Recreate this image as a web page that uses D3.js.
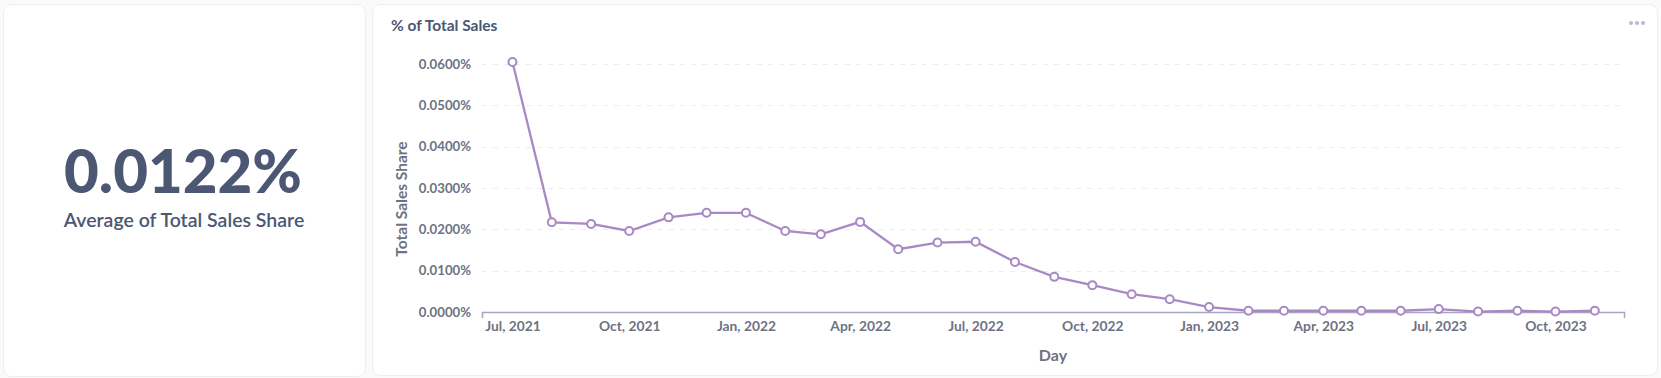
<!DOCTYPE html>
<html>
<head>
<meta charset="utf-8">
<script src="https://cdn.jsdelivr.net/npm/d3@7"></script>
<style>
  html, body { margin: 0; padding: 0; background: #f9fafb; }
  svg { display: block; font-family: Lato, "Open Sans", sans-serif; }
</style>
</head>
<body>
<svg id="canvas"></svg>
<script>
// % of total sales, monthly
let months = ['2021-07', '2021-08', '2021-09', '2021-10', '2021-11', '2021-12',
              '2022-01', '2022-02', '2022-03', '2022-04', '2022-05', '2022-06',
              '2022-07', '2022-08', '2022-09', '2022-10', '2022-11', '2022-12',
              '2023-01', '2023-02', '2023-03', '2023-04', '2023-05', '2023-06',
              '2023-07', '2023-08', '2023-09', '2023-10', '2023-11']

// values in percent
let shareValues = [0.0605, 0.0217, 0.0213, 0.0196, 0.0229, 0.0240,
                   0.0240, 0.0196, 0.0188, 0.0218, 0.0152, 0.0168,
                   0.0170, 0.0121, 0.0085, 0.0065, 0.0043, 0.0031,
                   0.0012, 0.0003, 0.0003, 0.0003, 0.0003, 0.0003,
                   0.0007, 0.0001, 0.0003, 0.0001, 0.0003]

let yTicks = [0, 0.01, 0.02, 0.03, 0.04, 0.05, 0.06]
let xTicks = ['2021-07', '2021-10', '2022-01', '2022-04', '2022-07', '2022-10',
              '2023-01', '2023-04', '2023-07', '2023-10']

let scalarValue = '0.0122%'
let scalarLabel = 'Average of Total Sales Share'
let chartTitle = '% of Total Sales'

//dimensions
let width = 1661
let height = 378
let plot = {left: 482, right: 1624, top: 64, bottom: 312}

let textColor = '#4c5773'
let axisText = '#6e7282'
let lineColor = '#a989c5'

let parseMonth = d3.timeParse('%Y-%m')
let dates = months.map(parseMonth)

let canvas = d3.select('#canvas')
                .attr('width', width)
                .attr('height', height)

// cards
let drawCards = () => {
    let cards = [[3, 4, 362, 372], [372, 4, 1285, 371]]
    canvas.selectAll('rect.card')
        .data(cards)
        .enter()
        .append('rect')
        .attr('class', 'card')
        .attr('x', (c) => c[0] + 0.5)
        .attr('y', (c) => c[1] + 0.5)
        .attr('width', (c) => c[2])
        .attr('height', (c) => c[3])
        .attr('rx', 8)
        .attr('fill', '#ffffff')
        .attr('stroke', '#eceef1')
}

let drawScalar = () => {
    canvas.append('text')
        .attr('x', 183)
        .attr('y', 193)
        .attr('text-anchor', 'middle')
        .attr('font-size', 60)
        .attr('font-weight', 900)
        .attr('fill', textColor)
        .text(scalarValue)

    canvas.append('text')
        .attr('x', 184)
        .attr('y', 227)
        .attr('text-anchor', 'middle')
        .attr('font-size', 19.5)
        .attr('font-weight', 600)
        .attr('fill', textColor)
        .text(scalarLabel)
}

let drawChart = () => {
    canvas.append('text')
        .attr('x', 391)
        .attr('y', 31)
        .attr('font-size', 15.5)
        .attr('font-weight', 700)
        .attr('fill', textColor)
        .text(chartTitle)

    // the little menu dots
    canvas.selectAll('circle.menu')
        .data([0, 1, 2])
        .enter()
        .append('circle')
        .attr('class', 'menu')
        .attr('cx', (d) => 1631 + d * 6)
        .attr('cy', 23)
        .attr('r', 2)
        .attr('fill', '#b8bccb')

    let xScale = d3.scaleTime()
                    .domain([d3.timeDay.offset(dates[0], -24), d3.timeDay.offset(dates[dates.length - 1], 23)])
                    .range([plot.left, plot.right])

    let yScale = d3.scaleLinear()
                    .domain([0, 0.06])
                    .range([plot.bottom, plot.top])

    let yAxis = d3.axisLeft(yScale)
                    .tickValues(yTicks)
                    .tickFormat((d) => d3.format('.4f')(d) + '%')
                    .tickSize(0)
                    .tickPadding(11)

    let yG = canvas.append('g')
        .attr('transform', 'translate(' + plot.left + ',0)')
        .call(yAxis)
    yG.select('.domain').remove()
    yG.selectAll('text')
        .attr('font-family', 'Lato')
        .attr('font-size', 13.2)
        .attr('font-weight', 700)
        .attr('fill', axisText)

    // grid
    canvas.append('g')
        .selectAll('line')
        .data(yTicks.filter((t) => t > 0))
        .enter()
        .append('line')
        .attr('x1', plot.left)
        .attr('x2', plot.right)
        .attr('y1', (t) => Math.round(yScale(t)) + 0.5)
        .attr('y2', (t) => Math.round(yScale(t)) + 0.5)
        .attr('stroke', '#ebedf0')
        .attr('stroke-dasharray', '5,6')

    let xAxis = d3.axisBottom(xScale)
                    .tickValues(xTicks.map(parseMonth))
                    .tickFormat(d3.timeFormat('%b, %Y'))
                    .tickSize(0)
                    .tickSizeOuter(6)
                    .tickPadding(9)

    let xG = canvas.append('g')
        .attr('transform', 'translate(0,' + plot.bottom + ')')
        .call(xAxis)
    xG.select('.domain')
        .attr('stroke', '#a4a8bf')
        .attr('stroke-width', 1.5)
    xG.selectAll('text')
        .attr('font-family', 'Lato')
        .attr('font-size', 13.8)
        .attr('font-weight', 700)
        .attr('fill', axisText)

    canvas.append('text')
        .attr('transform', 'translate(407,199) rotate(-90)')
        .attr('text-anchor', 'middle')
        .attr('font-size', 15.5)
        .attr('font-weight', 700)
        .attr('fill', axisText)
        .text('Total Sales Share')

    canvas.append('text')
        .attr('x', (plot.left + plot.right) / 2)
        .attr('y', 361)
        .attr('text-anchor', 'middle')
        .attr('font-size', 16)
        .attr('font-weight', 700)
        .attr('fill', axisText)
        .text('Day')

    let line = d3.line()
                .x((d, i) => xScale(dates[i]))
                .y((d) => yScale(d))

    canvas.append('path')
        .datum(shareValues)
        .attr('d', line)
        .attr('fill', 'none')
        .attr('stroke', lineColor)
        .attr('stroke-width', 2.3)

    canvas.selectAll('circle.dot')
        .data(shareValues)
        .enter()
        .append('circle')
        .attr('class', 'dot')
        .attr('cx', (d, i) => xScale(dates[i]))
        .attr('cy', (d) => yScale(d))
        .attr('r', 4)
        .attr('fill', '#ffffff')
        .attr('stroke', lineColor)
        .attr('stroke-width', 2)
}

drawCards()
drawScalar()
drawChart()
</script>
</body>
</html>
